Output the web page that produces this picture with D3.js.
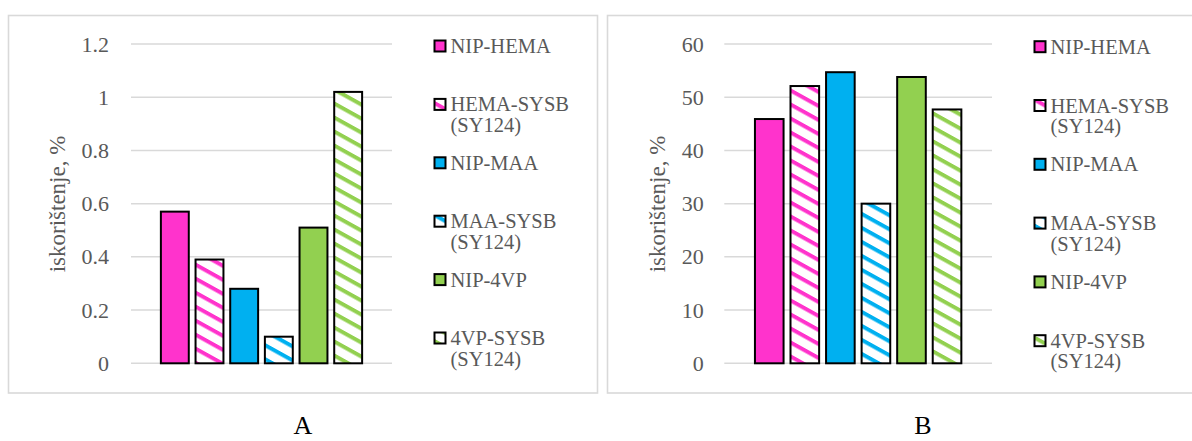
<!DOCTYPE html>
<html>
<head>
<meta charset="utf-8">
<script src="https://cdn.jsdelivr.net/npm/d3@7"></script>
<style>
  html, body { margin: 0; padding: 0; background: #fff; }
  svg { display: block; }
  text { font-family: "Liberation Serif", "Times New Roman", serif; }
</style>
</head>
<body>
<svg id="chart" width="1192" height="441"></svg>
<script>
// ---- data ----
const seriesNames = ["NIP-HEMA", "HEMA-SYSB (SY124)", "NIP-MAA", "MAA-SYSB (SY124)", "NIP-4VP", "4VP-SYSB (SY124)"];
const legendLines = [["NIP-HEMA"], ["HEMA-SYSB", "(SY124)"], ["NIP-MAA"], ["MAA-SYSB", "(SY124)"], ["NIP-4VP"], ["4VP-SYSB", "(SY124)"]];
const valuesA = [0.57, 0.39, 0.28, 0.10, 0.51, 1.02];
const valuesB = [45.9, 52.1, 54.7, 30.0, 53.8, 47.7];
const ticksA = [0, 0.2, 0.4, 0.6, 0.8, 1, 1.2];
const tickLabelsA = ["0", "0.2", "0.4", "0.6", "0.8", "1", "1.2"];
const ticksB = [0, 10, 20, 30, 40, 50, 60];
const tickLabelsB = ["0", "10", "20", "30", "40", "50", "60"];
const yTitle = "iskorištenje, %";
const panelLabels = ["A", "B"];

// ---- style ----
const baseColors = ["#FF33CC", "#FF33CC", "#00B0F0", "#00B0F0", "#92D050", "#92D050"];
const hatched = [false, true, false, true, false, true];
const textGray = "#595959";
const gridGray = "#d9d9d9";

const svg = d3.select("#chart");
const defs = svg.append("defs");
baseColors.forEach((c, i) => {
  if (!hatched[i]) return;
  const p = defs.append("pattern")
    .attr("id", "hatch" + i)
    .attr("patternUnits", "userSpaceOnUse")
    .attr("width", 10).attr("height", 14)
    .attr("patternTransform", "skewY(29)");
  p.append("rect").attr("width", 10).attr("height", 14).attr("fill", "#fff");
  p.append("rect").attr("y", 0).attr("width", 10).attr("height", 4.5).attr("fill", c);
});
const fillOf = i => hatched[i] ? `url(#hatch${i})` : baseColors[i];

function drawPanel(cfg) {
  const g = svg.append("g");
  // panel frame
  g.append("rect")
    .attr("x", cfg.frame[0]).attr("y", cfg.frame[1])
    .attr("width", cfg.frame[2]).attr("height", cfg.frame[3])
    .attr("fill", "none").attr("stroke", gridGray).attr("stroke-width", 1.6);

  const y = d3.scaleLinear().domain([0, d3.max(cfg.ticks)]).range([363.3, 44]);
  const x = d3.scaleBand().domain(seriesNames)
    .range([cfg.plotX0, cfg.plotX1]).paddingInner(0.195).paddingOuter(0.862);

  // grid
  g.append("g").selectAll("line").data(cfg.ticks).join("line")
    .attr("x1", cfg.plotX0).attr("x2", cfg.plotX1)
    .attr("y1", d => y(d)).attr("y2", d => y(d))
    .attr("stroke", gridGray).attr("stroke-width", 1.5);

  // axis labels
  const axis = d3.axisLeft(y).tickValues(cfg.ticks)
    .tickFormat((d, i) => cfg.tickLabels[i]).tickSize(0).tickPadding(cfg.tickPad);
  const ag = g.append("g").attr("transform", `translate(${cfg.plotX0},0)`).call(axis);
  ag.select(".domain").remove();
  ag.selectAll("text")
    .attr("fill", textGray)
    .style("font-family", '"Liberation Serif", "Times New Roman", serif')
    .style("font-size", "22px");

  // y title
  g.append("text")
    .attr("transform", `translate(${cfg.titleX},204) rotate(-90)`)
    .attr("text-anchor", "middle")
    .attr("fill", textGray).style("font-size", "23px")
    .text(yTitle);

  // bars
  g.append("g").selectAll("rect").data(cfg.values).join("rect")
    .attr("x", (d, i) => x(seriesNames[i]))
    .attr("width", x.bandwidth())
    .attr("y", d => y(d))
    .attr("height", d => y(0) - y(d))
    .attr("fill", (d, i) => fillOf(i))
    .attr("stroke", "#000").attr("stroke-width", 2);

  // legend
  const lg = g.append("g");
  legendLines.forEach((lines, i) => {
    const yc = cfg.legY0 + i * cfg.legStep;
    lg.append("rect")
      .attr("x", cfg.legX).attr("y", yc - 5.5)
      .attr("width", 11).attr("height", 11)
      .attr("fill", fillOf(i)).attr("stroke", "#000").attr("stroke-width", 2);
    lines.forEach((t, j) => {
      lg.append("text")
        .attr("x", cfg.legX + 16).attr("y", yc + 7 + j * 20.5)
        .attr("fill", textGray).style("font-size", "20.5px")
        .text(t);
    });
  });

  // panel label
  g.append("text")
    .attr("x", cfg.labelX).attr("y", 434)
    .attr("text-anchor", "middle").attr("fill", "#000")
    .style("font-size", "26px")
    .text(cfg.label);
}

drawPanel({
  frame: [8.5, 15.5, 589, 377.5],
  values: valuesA, ticks: ticksA, tickLabels: tickLabelsA,
  plotX0: 131, plotX1: 392, tickPad: 22, titleX: 65,
  legX: 434.5, legY0: 46, legStep: 58.4,
  labelX: 303, label: panelLabels[0]
});
drawPanel({
  frame: [607.5, 15.5, 600, 377.5],
  values: valuesB, ticks: ticksB, tickLabels: tickLabelsB,
  plotX0: 724.3, plotX1: 992, tickPad: 20.5, titleX: 665,
  legX: 1034.5, legY0: 46.7, legStep: 58.8,
  labelX: 923, label: panelLabels[1]
});
</script>
</body>
</html>
